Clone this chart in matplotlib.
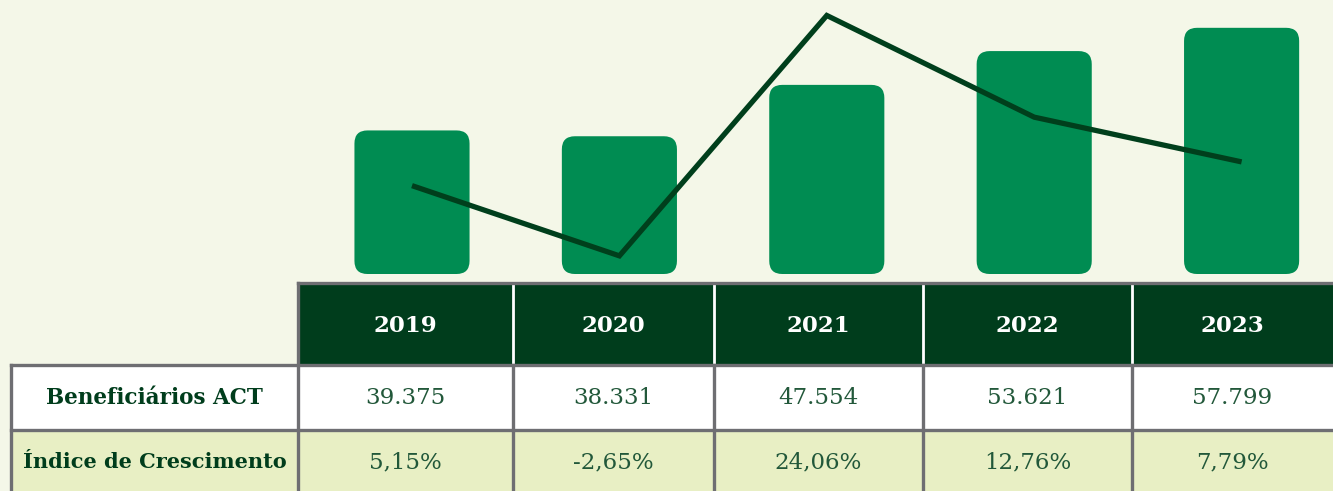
import matplotlib
matplotlib.use("Agg")
import matplotlib.pyplot as plt
from matplotlib.patches import FancyBboxPatch, Rectangle
import numpy as np

# data
anos = ["2019", "2020", "2021", "2022", "2023"]
beneficiarios = [39375, 38331, 47554, 53621, 57799]
crescimento = [5.15, -2.65, 24.06, 12.76, 7.79]
beneficiarios_txt = ["39.375", "38.331", "47.554", "53.621", "57.799"]
crescimento_txt = ["5,15%", "-2,65%", "24,06%", "12,76%", "7,79%"]
row_labels = ["Beneficiários ACT", "Índice de Crescimento"]

bg = "#f4f7e8"
bar_color = "#008c52"
line_color = "#003f1c"
header_color = "#003d1c"
row2_color = "#e8efc4"
border = "#6e6e72"
text_green = "#22583a"

W, H = 1333, 491
fig = plt.figure(figsize=(W / 100, H / 100), dpi=100, facecolor=bg)

# table drawn in pixel coords
tab = fig.add_axes([0, 0, 1, 1])
tab.set_xlim(0, W)
tab.set_ylim(H, 0)
tab.axis("off")

cols = [298, 513, 714, 923, 1132, 1335]
lab_x0 = 11
y_head, y_r1, y_r2, y_end = 283, 365, 430, 495

# header
tab.add_patch(Rectangle((cols[0], y_head), cols[-1] - cols[0], y_r1 - y_head,
                        facecolor=header_color, edgecolor="none"))
for c in cols[1:-1]:
    tab.plot([c, c], [y_head, y_r1], color="white", lw=2)
# rows
tab.add_patch(Rectangle((lab_x0, y_r1), W - lab_x0, y_r2 - y_r1, facecolor="white", edgecolor="none"))
tab.add_patch(Rectangle((lab_x0, y_r2), W - lab_x0, y_end - y_r2, facecolor=row2_color, edgecolor="none"))
# grey borders
lw = 2.4
tab.plot([cols[0], W], [y_head, y_head], color=border, lw=lw)
tab.plot([cols[0], cols[0]], [y_head, y_end], color=border, lw=lw)
tab.plot([lab_x0, W], [y_r1, y_r1], color=border, lw=lw)
tab.plot([lab_x0, W], [y_r2, y_r2], color=border, lw=lw)
tab.plot([lab_x0, lab_x0], [y_r1, y_end], color=border, lw=lw)
for c in cols[1:-1]:
    tab.plot([c, c], [y_r1, y_end], color=border, lw=lw)

serif = ["DejaVu Serif"]
for i, a in enumerate(anos):
    cx = (cols[i] + min(cols[i + 1], W)) / 2
    tab.text(cx, (y_head + y_r1) / 2 + 2, a, color="white", fontsize=16.5, fontweight="bold",
             family=serif, ha="center", va="center")
    tab.text(cx, (y_r1 + y_r2) / 2 + 1, beneficiarios_txt[i], color=text_green, fontsize=16.5,
             family=serif, ha="center", va="center")
    tab.text(cx, (y_r2 + 491) / 2 + 2, crescimento_txt[i], color=text_green, fontsize=16.5,
             family=serif, ha="center", va="center")
lab_cx = (lab_x0 + cols[0]) / 2
tab.text(lab_cx, (y_r1 + y_r2) / 2 + 1, row_labels[0], color=header_color, fontsize=15.5,
         fontweight="bold", family=serif, ha="center", va="center")
tab.text(lab_cx, (y_r2 + 491) / 2 + 2, row_labels[1], color=header_color, fontsize=15,
         fontweight="bold", family=serif, ha="center", va="center")

# bars + line
step = 207.4
ax = fig.add_axes([(412 - step / 2) / W, (H - 274) / H, step * 5 / W, 274 / H])
ax.patch.set_alpha(0)
base = 13600
x = np.arange(len(anos))
ax.set_xlim(-0.5, 4.5)
ax.set_ylim(base, base + 274 / 0.00557)
ax.axis("off")

bars = ax.bar(x, np.array(beneficiarios) - base, bottom=base, width=0.555)
fig.canvas.draw()
px = ax.transData.transform([(0, 0), (1, 1)])
x_per_px = 1 / (px[1, 0] - px[0, 0])
y_per_px = 1 / (px[1, 1] - px[0, 1])
for b in bars:
    b.remove()
    ax.add_patch(FancyBboxPatch((b.get_x(), b.get_y()), b.get_width(), b.get_height(),
                                boxstyle="round,pad=0,rounding_size=%f" % (13 * x_per_px),
                                mutation_aspect=y_per_px / x_per_px,
                                facecolor=bar_color, edgecolor="none"))

ax2 = ax.twinx()
k = 9.0  # px per percentage point
zero_px = 232
ax2.set_ylim(-(274 - zero_px) / k, zero_px / k)
ax2.axis("off")
ax2.plot(x, crescimento, color=line_color, lw=3.8, solid_joinstyle="miter", solid_capstyle="butt")

fig.savefig("out.png", dpi=100, facecolor=bg)
